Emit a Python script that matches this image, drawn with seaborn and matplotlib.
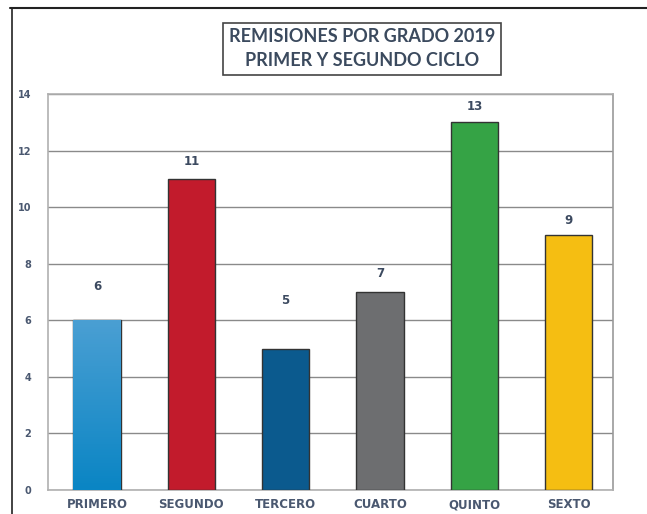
import matplotlib.pyplot as plt
import matplotlib as mpl
import seaborn as sns
import numpy as np
import pandas as pd
from matplotlib.lines import Line2D

grados = ["PRIMERO", "SEGUNDO", "TERCERO", "CUARTO", "QUINTO", "SEXTO"]
remisiones = [6, 11, 5, 7, 13, 9]
colores = ["#1a8ccb", "#c21b2c", "#0b5a8e", "#6d6e70", "#35a345", "#f5be12"]
titulo = "REMISIONES POR GRADO 2019\nPRIMER Y SEGUNDO CICLO"

# desplazamiento de las etiquetas sobre cada barra (en puntos)
offsets = [20, 8, 30, 9, 7, 6]

sns.set_theme(style="white")
plt.rcParams['font.family'] = ['DejaVu Sans']

df = pd.DataFrame({"grado": grados, "n": remisiones})

fig = plt.figure(figsize=(6.47, 5.14), dpi=100)
ax = fig.add_axes([0.0742, 0.0467, 0.8732, 0.7703])

sns.barplot(data=df, x="grado", y="n", hue="grado", palette=colores,
            width=0.5, edgecolor="#333333", linewidth=1.0, legend=False,
            saturation=1, ax=ax, zorder=3)

# degradado en la primera barra
p = ax.patches[0]
x0, y0 = p.get_x(), p.get_y()
grad = np.linspace(0, 1, 100).reshape(-1, 1)
cmap = mpl.colors.LinearSegmentedColormap.from_list("g", ["#0a85c4", "#4a9fd3"])
im = ax.imshow(grad, cmap=cmap, extent=[x0, x0 + p.get_width(), y0, y0 + p.get_height()],
               origin="lower", aspect="auto", zorder=3.5)
im.set_clip_path(p)

for i, (v, off) in enumerate(zip(remisiones, offsets)):
    ax.annotate(str(v), (i, v), xytext=(0, off), textcoords="offset points",
                ha="center", va="bottom", fontsize=8.5, fontweight="bold", color="#3c4a60")

ax.set_xlim(-0.52, 5.47)
ax.set_ylim(0, 14)
ax.set_yticks(range(0, 15, 2))
ax.yaxis.grid(True, color="#8a8a8a", linewidth=1.0, zorder=0)
ax.set_axisbelow(True)
ax.set_xlabel("")
ax.set_ylabel("")
ax.tick_params(axis="y", labelsize=7, labelcolor="#4a5870", pad=12, length=0)
ax.tick_params(axis="x", labelsize=8.5, labelcolor="#4a5870", pad=6, length=0)
for lab in ax.get_xticklabels() + ax.get_yticklabels():
    lab.set_fontweight("bold")
for s in ["left", "right", "top", "bottom"]:
    ax.spines[s].set_color("#b0b0b0")
    ax.spines[s].set_linewidth(1.2)
ax.spines["right"].set_color("#999999")

# marco exterior
fig.add_artist(Line2D([0.015, 1.0], [0.984, 0.984], color="#222222", linewidth=1.5))
fig.add_artist(Line2D([0.019, 0.019], [0.0, 0.984], color="#222222", linewidth=1.2))

fig.text(0.5595, 0.905, titulo, ha="center", va="center", fontsize=13,
         fontweight="bold", color="#3b4a5e", linespacing=1.5, family=["Lato", "DejaVu Sans"],
         bbox=dict(boxstyle="square,pad=0.3", facecolor="white", edgecolor="#444444", linewidth=1.2))

fig.savefig("out.png", dpi=100)
